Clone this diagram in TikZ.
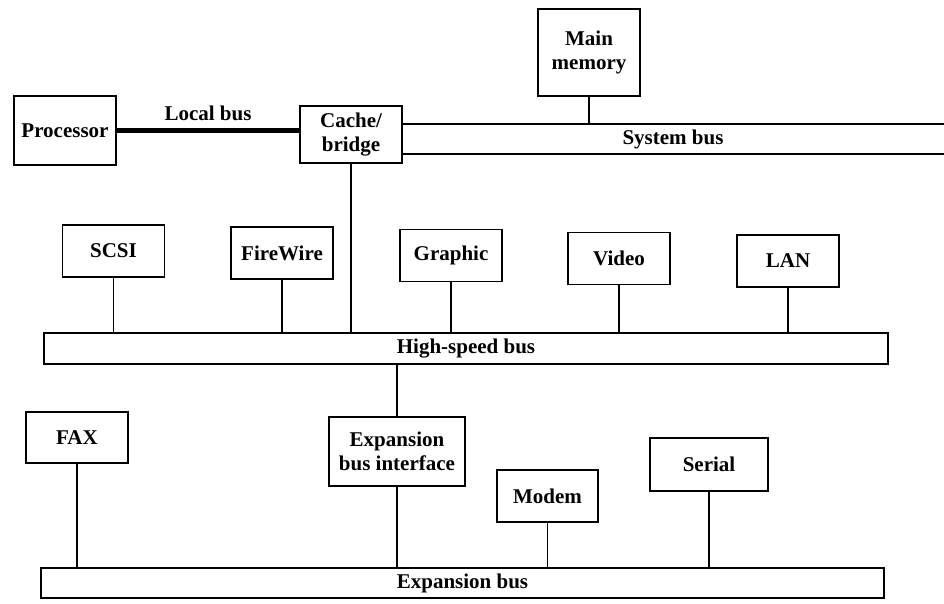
\documentclass[tikz,border=0pt]{standalone}
\usepackage{fontspec}
\setmainfont{Liberation Serif}
\begin{document}
\begin{tikzpicture}[x=1pt,y=-1pt,
  unit/.style={draw, line width=1.2pt, fill=white, inner sep=0pt, outer sep=0pt,
    align=center, font=\bfseries\fontsize{21}{24}\selectfont,
    minimum width=102pt, minimum height=52pt},
  bus/.style={draw, line width=1.2pt, fill=white, inner sep=0pt, outer sep=0pt,
    font=\bfseries\fontsize{21}{24}\selectfont, minimum height=30pt},
  link/.style={line width=1.8pt},
  label/.style={inner sep=0pt, font=\bfseries\fontsize{21}{24}\selectfont}]
\useasboundingbox (0,0) rectangle (944,604);

% processor, cache and main memory
\node[unit, minimum height=69pt] (proc) at (65,130.5) {Processor};
\node[unit, minimum height=57pt] (cache) at (351,134.5) {Cache/\\bridge};
\node[unit, minimum height=87pt] (mem) at (589,52.5) {Main\\memory};

% local bus
\draw[line width=5.5pt] (proc.east) -- (proc.east -| cache.west);
\node[label] (localbus) at (208,113) {Local bus};

% system bus, running off the right edge
\node[bus, draw=none, fill=none, minimum width=542pt] (sysbus) at (673,139) {System bus};
\draw[line width=1.2pt] (sysbus.north west) -- (sysbus.north east)
                        (sysbus.south west) -- (sysbus.south east);
\draw[link] (mem.south) -- (mem.south |- sysbus.north);

% high-speed bus and its devices
\node[bus, minimum width=844pt, minimum height=31pt] (hsbus) at (466,348.5) {High-speed bus};
\node[unit] (scsi) at (113.5,251) {SCSI};
\node[unit] (fw) at (282,253) {FireWire};
\node[unit] (gfx) at (451,255.5) {Graphic};
\node[unit] (video) at (619,258.5) {Video};
\node[unit] (lan) at (788,261) {LAN};
\foreach \d in {scsi,fw,gfx,video,lan}
  \draw[link] (\d.south) -- (\d.south |- hsbus.north);
\draw[link] (cache.south) -- (cache.south |- hsbus.north);

% expansion bus and its devices
\node[bus, minimum width=843pt] (expbus) at (462.5,583) {Expansion bus};
\node[unit, minimum height=51pt] (fax) at (77,437.5) {FAX};
\node[unit, minimum width=136pt, minimum height=69pt] (expif) at (397,451.5) {Expansion\\bus interface};
\node[unit, minimum width=101pt] (modem) at (547.5,496) {Modem};
\node[unit, minimum width=118pt, minimum height=53pt] (serial) at (709,464.5) {Serial};
\draw[link] (expif.north |- hsbus.south) -- (expif.north);
\foreach \d in {fax,expif,modem,serial}
  \draw[link] (\d.south) -- (\d.south |- expbus.north);
\end{tikzpicture}
\end{document}
